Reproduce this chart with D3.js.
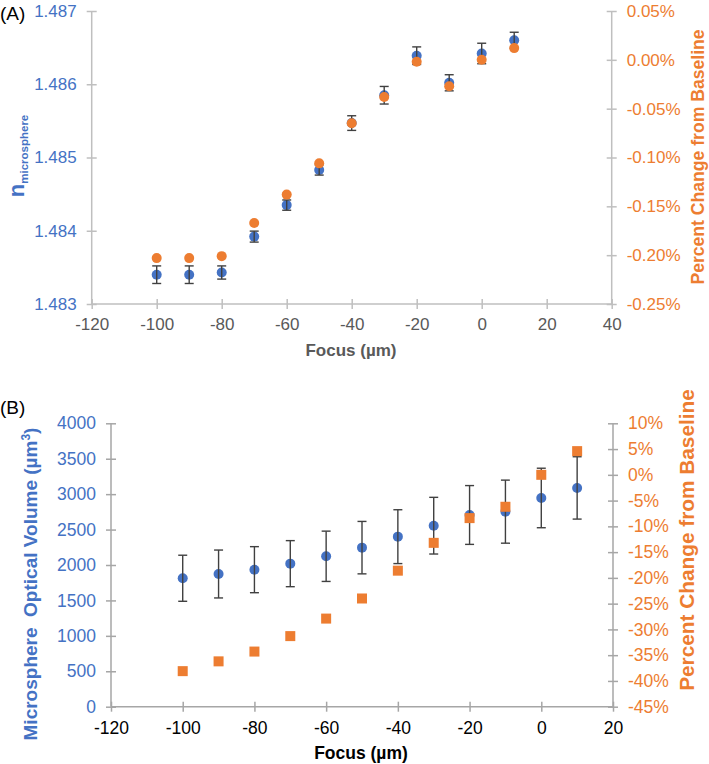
<!DOCTYPE html>
<html>
<head>
<meta charset="utf-8">
<script src="https://cdn.jsdelivr.net/npm/d3@7"></script>
<style>
  html, body { margin: 0; padding: 0; background: #fff; }
  svg { display: block; font-family: "Liberation Sans", Arial, sans-serif; }
</style>
</head>
<body>
<svg id="chart" width="709" height="764"></svg>
<script>
// ---------- data ----------
const focus = [-100, -90, -80, -70, -60, -50, -40, -30, -20, -10, 0, 10];

// Panel A
const nMicro = [1.48340, 1.48340, 1.48343, 1.48392, 1.48435, 1.48483, 1.48547, 1.48585, 1.48639, 1.48602, 1.48642, 1.48660];
const nErr   = [0.00012, 0.00012, 0.00009, 0.000075, 0.00007, 0.00007, 0.00010, 0.00012, 0.00012, 0.00011, 0.00014, 0.00011];
const nPct   = [-0.203, -0.203, -0.201, -0.167, -0.138, -0.106, -0.065, -0.038, -0.002, -0.027, 0.000, 0.012];

// Panel B
const vol    = [1813, 1873, 1934, 2019, 2123, 2245, 2400, 2555, 2706, 2753, 2946, 3088];
const volErr = [325, 338, 325, 325, 355, 370, 380, 400, 415, 445, 420, 440];
const volPct = [-38.1, -36.2, -34.3, -31.3, -27.9, -24.0, -18.6, -13.2, -8.4, -6.2, 0.0, 4.6];

// tick values
const xTicksA = [-120, -100, -80, -60, -40, -20, 0, 20, 40];
const yTicksA = [1.483, 1.484, 1.485, 1.486, 1.487];
const y2TicksA = [-0.25, -0.20, -0.15, -0.10, -0.05, 0.00, 0.05];
const xTicksB = [-120, -100, -80, -60, -40, -20, 0, 20];
const yTicksB = [0, 500, 1000, 1500, 2000, 2500, 3000, 3500, 4000];
const y2TicksB = [-45, -40, -35, -30, -25, -20, -15, -10, -5, 0, 5, 10];

// ---------- styles ----------
const BLUE = "#4472C4", ORANGE = "#ED7D31", GREY = "#595959", ERR = "#404040";
const loc = d3.formatLocale({decimal: ".", thousands: ",", grouping: [3], currency: ["$", ""], minus: "-"});

const svg = d3.select("#chart");

function crossTicks(g, orient, size) {
  g.select(".domain").remove();
  g.selectAll(".tick line").each(function () {
    const l = d3.select(this);
    if (orient === "left" || orient === "right") l.attr("x1", -size).attr("x2", size);
    else l.attr("y1", -size).attr("y2", size);
  });
}

function panel(cfg) {
  const x = d3.scaleLinear().domain(cfg.xDom).range(cfg.xR);
  const y = d3.scaleLinear().domain(cfg.yDom).range(cfg.yR);
  const y2 = d3.scaleLinear().domain(cfg.y2Dom).range(cfg.yR);
  const g = svg.append("g");

  // axis lines
  g.append("line").attr("x1", cfg.xR[0]).attr("x2", cfg.xR[1]).attr("y1", cfg.yR[0]).attr("y2", cfg.yR[0])
    .attr("stroke", cfg.axisColor).attr("stroke-width", 1.5);
  g.append("line").attr("x1", cfg.xR[0]).attr("x2", cfg.xR[0]).attr("y1", cfg.yR[0]).attr("y2", cfg.yR[1])
    .attr("stroke", cfg.axisColor).attr("stroke-width", 1.5);
  g.append("line").attr("x1", cfg.xR[1]).attr("x2", cfg.xR[1]).attr("y1", cfg.yR[0]).attr("y2", cfg.yR[1])
    .attr("stroke", cfg.axisColor).attr("stroke-width", 1.5);

  const gx = g.append("g").attr("transform", `translate(0,${cfg.yR[0]})`)
    .call(d3.axisBottom(x).tickValues(cfg.xTicks).tickFormat(loc.format("d")).tickSize(5).tickPadding(cfg.xPad));
  crossTicks(gx, "bottom", 5);
  gx.selectAll("line").attr("stroke", cfg.axisColor).attr("stroke-width", 1.5);
  gx.selectAll("text").attr("fill", cfg.xTickColor).style("font-size", cfg.fs + "px");

  const gy = g.append("g").attr("transform", `translate(${cfg.xR[0]},0)`)
    .call(d3.axisLeft(y).tickValues(cfg.yTicks).tickFormat(cfg.yFmt).tickSize(5).tickPadding(10));
  crossTicks(gy, "left", 5);
  gy.selectAll("line").attr("stroke", cfg.axisColor).attr("stroke-width", 1.5);
  gy.selectAll("text").attr("fill", BLUE).style("font-size", cfg.fs + "px");

  const gy2 = g.append("g").attr("transform", `translate(${cfg.xR[1]},0)`)
    .call(d3.axisRight(y2).tickValues(cfg.y2Ticks).tickFormat(cfg.y2Fmt).tickSize(5).tickPadding(10));
  crossTicks(gy2, "right", 5);
  gy2.selectAll("line").attr("stroke", cfg.axisColor).attr("stroke-width", 1.5);
  gy2.selectAll("text").attr("fill", ORANGE).style("font-size", cfg.fs + "px");

  const data = focus.map((f, i) => ({f, v: cfg.vals[i], e: cfg.errs[i], p: cfg.pcts[i]}));

  // primary markers
  g.selectAll(".pm").data(data).enter().append("circle")
    .attr("cx", d => x(d.f)).attr("cy", d => y(d.v)).attr("r", 5).attr("fill", BLUE);

  // error bars
  const eb = g.selectAll(".eb").data(data).enter().append("g").attr("stroke", ERR).attr("stroke-width", 1.4);
  eb.append("line").attr("x1", d => x(d.f)).attr("x2", d => x(d.f)).attr("y1", d => y(d.v - d.e)).attr("y2", d => y(d.v + d.e));
  eb.append("line").attr("x1", d => x(d.f) - 4.5).attr("x2", d => x(d.f) + 4.5).attr("y1", d => y(d.v + d.e)).attr("y2", d => y(d.v + d.e));
  eb.append("line").attr("x1", d => x(d.f) - 4.5).attr("x2", d => x(d.f) + 4.5).attr("y1", d => y(d.v - d.e)).attr("y2", d => y(d.v - d.e));

  // secondary markers
  if (cfg.square) {
    g.selectAll(".sm").data(data).enter().append("rect")
      .attr("x", d => x(d.f) - 5).attr("y", d => y2(d.p) - 5).attr("width", 10).attr("height", 10).attr("fill", ORANGE);
  } else {
    g.selectAll(".sm").data(data).enter().append("circle")
      .attr("cx", d => x(d.f)).attr("cy", d => y2(d.p)).attr("r", 5).attr("fill", ORANGE);
  }
  return g;
}

// ---------- Panel A ----------
panel({
  xDom: [-120, 40], xR: [91.7, 611.7],
  yDom: [1.483, 1.487], yR: [304, 11],
  y2Dom: [-0.25, 0.05],
  xTicks: xTicksA, yTicks: yTicksA, y2Ticks: y2TicksA,
  yFmt: loc.format(".3f"), y2Fmt: v => loc.format(".2f")(v) + "%",
  axisColor: "#BFBFBF", xTickColor: GREY, xPad: 9, fs: 17,
  vals: nMicro, errs: nErr, pcts: nPct, square: false
});

// ---------- Panel B ----------
panel({
  xDom: [-120, 20], xR: [111, 613],
  yDom: [0, 4000], yR: [706.7, 423.3],
  y2Dom: [-45, 10],
  xTicks: xTicksB, yTicks: yTicksB, y2Ticks: y2TicksB,
  yFmt: loc.format("d"), y2Fmt: v => loc.format("d")(v) + "%",
  axisColor: "#A6A6A6", xTickColor: "#000", xPad: 10, fs: 17.5,
  vals: vol, errs: volErr, pcts: volPct, square: true
});

// ---------- labels ----------
svg.append("text").attr("x", 0).attr("y", 20).text("(A)").style("font-size", "19px").attr("fill", "#000");
svg.append("text").attr("x", 0).attr("y", 414).text("(B)").style("font-size", "19px").attr("fill", "#000");

// Panel A titles
svg.append("text").attr("x", 351).attr("y", 356).attr("text-anchor", "middle")
  .style("font-size", "17px").style("font-weight", "bold").attr("fill", GREY).text("Focus (µm)");
const tA = svg.append("text").attr("transform", "translate(24,156) rotate(-90)").attr("text-anchor", "middle")
  .style("font-weight", "bold").attr("fill", BLUE);
tA.append("tspan").style("font-size", "22px").text("n");
tA.append("tspan").style("font-size", "11.5px").attr("dy", 4).text("microsphere");
svg.append("text").attr("transform", "translate(704,157) rotate(-90)").attr("text-anchor", "middle")
  .style("font-size", "17.6px").style("font-weight", "bold").attr("fill", ORANGE).text("Percent Change from Baseline");

// Panel B titles
svg.append("text").attr("x", 361).attr("y", 759).attr("text-anchor", "middle")
  .style("font-size", "17.5px").style("font-weight", "bold").attr("fill", "#000").text("Focus (µm)");
const tB = svg.append("text").attr("transform", "translate(37,584) rotate(-90)").attr("text-anchor", "middle")
  .style("font-size", "19px").style("font-weight", "bold").attr("fill", BLUE).attr("xml:space", "preserve")
  .style("white-space", "pre");
tB.append("tspan").text("Microsphere  Optical Volume (µm");
tB.append("tspan").style("font-size", "12px").attr("dy", -7).text("3");
tB.append("tspan").attr("dy", 7).text(")");
svg.append("text").attr("transform", "translate(694,540) rotate(-90)").attr("text-anchor", "middle")
  .style("font-size", "20.8px").style("font-weight", "bold").attr("fill", ORANGE).text("Percent Change from Baseline");
</script>
</body>
</html>
